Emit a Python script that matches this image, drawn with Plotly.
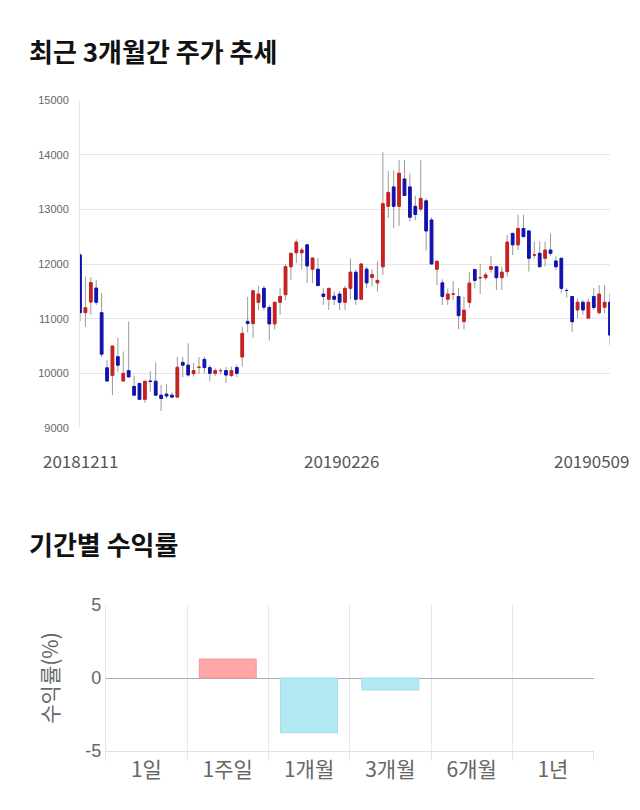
import plotly.graph_objects as go

# ---------------- data ----------------
dates = [
    "20181211", "20181212", "20181213", "20181214", "20181217", "20181218", "20181219", "20181220",
    "20181221", "20181224", "20181226", "20181227", "20181228",
    "20190102", "20190103", "20190104", "20190107", "20190108", "20190109", "20190110", "20190111",
    "20190114", "20190115", "20190116", "20190117", "20190118", "20190121", "20190122", "20190123",
    "20190124", "20190125", "20190128", "20190129", "20190130", "20190131",
    "20190201", "20190207", "20190208", "20190211", "20190212", "20190213", "20190214", "20190215",
    "20190218", "20190219", "20190220", "20190221", "20190222", "20190225", "20190226", "20190227",
    "20190228",
    "20190304", "20190305", "20190306", "20190307", "20190308", "20190311", "20190312", "20190313",
    "20190314", "20190315", "20190318", "20190319", "20190320", "20190321", "20190322", "20190325",
    "20190326", "20190327", "20190328", "20190329",
    "20190401", "20190402", "20190403", "20190404", "20190405", "20190408", "20190409", "20190410",
    "20190411", "20190412", "20190415", "20190416", "20190417", "20190418", "20190419", "20190422",
    "20190423", "20190424", "20190425", "20190426", "20190429", "20190430",
    "20190502", "20190503", "20190507", "20190508", "20190509",
]

opens = [12165, 11110, 11305, 11560, 11110, 10100, 9960, 10305, 9860, 10050,
         9760, 9815, 9525, 9860, 9855, 9600, 9620, 9600, 9565, 10200,
         10150, 9995, 10110, 10255, 10105, 10000, 10050, 10050, 9960, 10105,
         10300, 10950, 10910, 11300, 11555, 11205, 10905, 11300, 11440, 11950,
         12205, 12205, 12350, 11905, 11905, 11450, 11355, 11410, 11450, 11300,
         11555, 11850, 11355, 11905, 11755, 11655, 11950, 13055, 13410, 13055,
         13555, 13410, 13055, 13005, 13155, 12805, 11905, 11655, 11355, 11450,
         11405, 10950, 11300, 11900, 11750, 11750, 11905, 11950, 11750, 11860,
         12560, 12350, 12650, 12605, 12165, 12195, 12105, 12255, 12055, 12105,
         11515, 11405, 11160, 11300, 11010, 11405, 11110, 11210, 11300]
highs = [12200, 11770, 11760, 11710, 11470, 10250, 10500, 10650, 10400, 10950,
         9960, 9820, 9860, 10040, 10200, 9790, 9800, 9650, 10300, 10305,
         10550, 10190, 10300, 10305, 10150, 10090, 10090, 10120, 10120, 10160,
         10850, 11400, 11520, 11600, 11600, 11250, 11300, 11560, 12000, 12195,
         12450, 12300, 12360, 12110, 12110, 11560, 11555, 11500, 11500, 11600,
         12105, 11900, 12000, 11950, 11900, 12050, 14045, 13700, 13715, 13900,
         13900, 13660, 13250, 13900, 13200, 12850, 12050, 11720, 11550, 11690,
         11560, 11400, 11850, 11900, 12000, 11850, 12140, 11950, 11950, 12530,
         12560, 12900, 12900, 12605, 12410, 12410, 12410, 12560, 12140, 12105,
         11560, 11405, 11370, 11340, 11370, 11560, 11615, 11615, 11465]
lows = [10950, 10850, 11070, 11250, 10300, 9860, 9600, 10030, 9860, 9935,
        9600, 9525, 9460, 9665, 9600, 9310, 9540, 9540, 9565, 9930,
        9940, 9940, 9990, 10000, 9850, 9950, 9980, 9820, 9930, 9930,
        10120, 10750, 10650, 11160, 11150, 10600, 10800, 11070, 11340, 11710,
        12015, 11900, 11650, 11650, 11605, 11250, 11160, 11250, 11160, 11160,
        11355, 11250, 11355, 11560, 11590, 11495, 11800, 12840, 12655, 12695,
        13255, 12775, 12800, 12960, 12245, 12000, 11615, 11250, 11250, 11340,
        10805, 10805, 11200, 11555, 11450, 11700, 11840, 11525, 11525, 11770,
        12165, 12255, 12500, 11860, 12105, 11950, 11950, 12150, 11890, 11465,
        11380, 10760, 11010, 11070, 11010, 11160, 11080, 11095, 10520]
closes = [11110, 11200, 11660, 11300, 10350, 9860, 10500, 10150, 10000, 9935,
          9600, 9525, 9855, 9850, 9600, 9540, 9585, 9565, 10110, 10150,
          9970, 10050, 10110, 10105, 10000, 10050, 10050, 9970, 10050, 10000,
          10730, 10910, 11510, 11450, 11210, 10905, 11300, 11405, 11950, 12195,
          12400, 12255, 11965, 12110, 11605, 11405, 11555, 11355, 11300, 11555,
          11850, 11355, 12000, 11655, 11805, 11700, 13105, 13310, 13055, 13660,
          13255, 12855, 12905, 13200, 12605, 12000, 12050, 11405, 11450, 11450,
          11055, 11155, 11650, 11700, 11750, 11800, 11950, 11750, 11850, 12400,
          12350, 12650, 12500, 12105, 12165, 11950, 12255, 12195, 11950, 11555,
          11515, 10945, 11300, 11160, 11300, 11205, 11450, 11300, 10700]

price_ticks = [9000, 10000, 11000, 12000, 13000, 14000, 15000]
date_labels = ["20181211", "20190226", "20190509"]

periods = ["1일", "1주일", "1개월", "3개월", "6개월", "1년"]
returns = [0, 1.3, -3.75, -0.82, 0, 0]

UP = "#cc1f1f"
DOWN = "#1212b4"
WICK = "#9a9a9a"
W, H = 640, 810

fig = go.Figure()

idx = list(range(len(dates)))
body_hi = [max(o, c) for o, c in zip(opens, closes)]
body_lo = [min(o, c) for o, c in zip(opens, closes)]

# wicks (grey)
fig.add_trace(go.Candlestick(
    x=idx, open=opens, high=highs, low=lows, close=closes,
    increasing=dict(line=dict(color=WICK, width=1), fillcolor="rgba(0,0,0,0)"),
    decreasing=dict(line=dict(color=WICK, width=1), fillcolor="rgba(0,0,0,0)"),
    whiskerwidth=0, hoverinfo="skip", showlegend=False, xaxis="x", yaxis="y",
))
# bodies
fig.add_trace(go.Candlestick(
    x=idx, open=opens, high=body_hi, low=body_lo, close=closes,
    increasing=dict(line=dict(color=UP, width=1), fillcolor=UP),
    decreasing=dict(line=dict(color=DOWN, width=1), fillcolor=DOWN),
    whiskerwidth=0, showlegend=False, xaxis="x", yaxis="y",
))

bar_fill = ["#ffa6a6" if v > 0 else "#b3e9f2" for v in returns]
bar_line = ["#f59595" if v > 0 else "#9fdbe7" for v in returns]
bar_lw = [1 if v != 0 else 0 for v in returns]
fig.add_trace(go.Bar(
    x=periods, y=returns,
    marker=dict(color=bar_fill, line=dict(color=bar_line, width=bar_lw)),
    width=0.7, showlegend=False, xaxis="x2", yaxis="y2",
))

grey_txt = "#666666"
fig.update_layout(
    width=W, height=H,
    margin=dict(l=0, r=0, t=0, b=0, autoexpand=False),
    paper_bgcolor="white", plot_bgcolor="white",
    font=dict(family="Noto Sans CJK KR", color=grey_txt),
    xaxis=dict(
        domain=[80 / W, 610 / W], range=[0, len(dates) - 1],
        showticklabels=False, ticks="", showgrid=False, zeroline=False,
        rangeslider=dict(visible=False), fixedrange=True,
    ),
    yaxis=dict(
        domain=[1 - 428 / H, 1 - 100 / H], range=[9000, 15000],
        tickvals=price_ticks, ticktext=[str(v) for v in price_ticks],
        tickfont=dict(family="Liberation Sans", size=11, color=grey_txt),
        gridcolor="#e6e6e6", showline=True, linecolor="#e6e6e6", zeroline=False,
        ticks="", ticklabelstandoff=8,
    ),
    xaxis2=dict(
        domain=[105.8 / W, 593.6 / W], anchor="y2", type="category",
        tickson="boundaries", showgrid=True, gridcolor="#e8e8e8",
        ticks="outside", ticklen=9, tickcolor="#e8e8e8",
        tickfont=dict(size=21, color=grey_txt),
        showline=True, linecolor="#e0e0e0",
    ),
    yaxis2=dict(
        domain=[1 - 751 / H, 1 - 605 / H], anchor="x2", range=[-5, 5],
        tickvals=[-5, 0, 5], ticktext=["-5", "0", "5"],
        tickfont=dict(family="Liberation Sans", size=18, color=grey_txt),
        gridcolor="#e6e6e6", zeroline=True, zerolinecolor="#aaaaaa", zerolinewidth=1,
        showline=True, linecolor="#e8e8e8",
        title=dict(text="수익률(%)", font=dict(size=21, color=grey_txt), standoff=20),
    ),
    bargap=0.3,
)

annotations = [
    dict(text="<b>최근 3개월간 주가 추세</b>", x=27 / W, y=1 - 50 / H, xref="paper", yref="paper",
         xanchor="left", yanchor="middle", showarrow=False,
         font=dict(size=26, color="#111111", family="Noto Sans CJK KR")),
    dict(text="<b>기간별 수익률</b>", x=27 / W, y=1 - 543 / H, xref="paper", yref="paper",
         xanchor="left", yanchor="middle", showarrow=False,
         font=dict(size=26, color="#111111", family="Noto Sans CJK KR")),
]
shifts = {0: 0, 1: -4, 2: -19}
for k, lab in enumerate(date_labels):
    annotations.append(dict(
        text=lab, x=dates.index(lab), y=1 - 460 / H, xref="x", yref="paper",
        xanchor="center", yanchor="middle", showarrow=False, xshift=shifts[k],
        font=dict(size=17, color="#555555", family="Noto Sans CJK KR"),
    ))
fig.update_layout(annotations=annotations)

fig.write_html("out.html")
